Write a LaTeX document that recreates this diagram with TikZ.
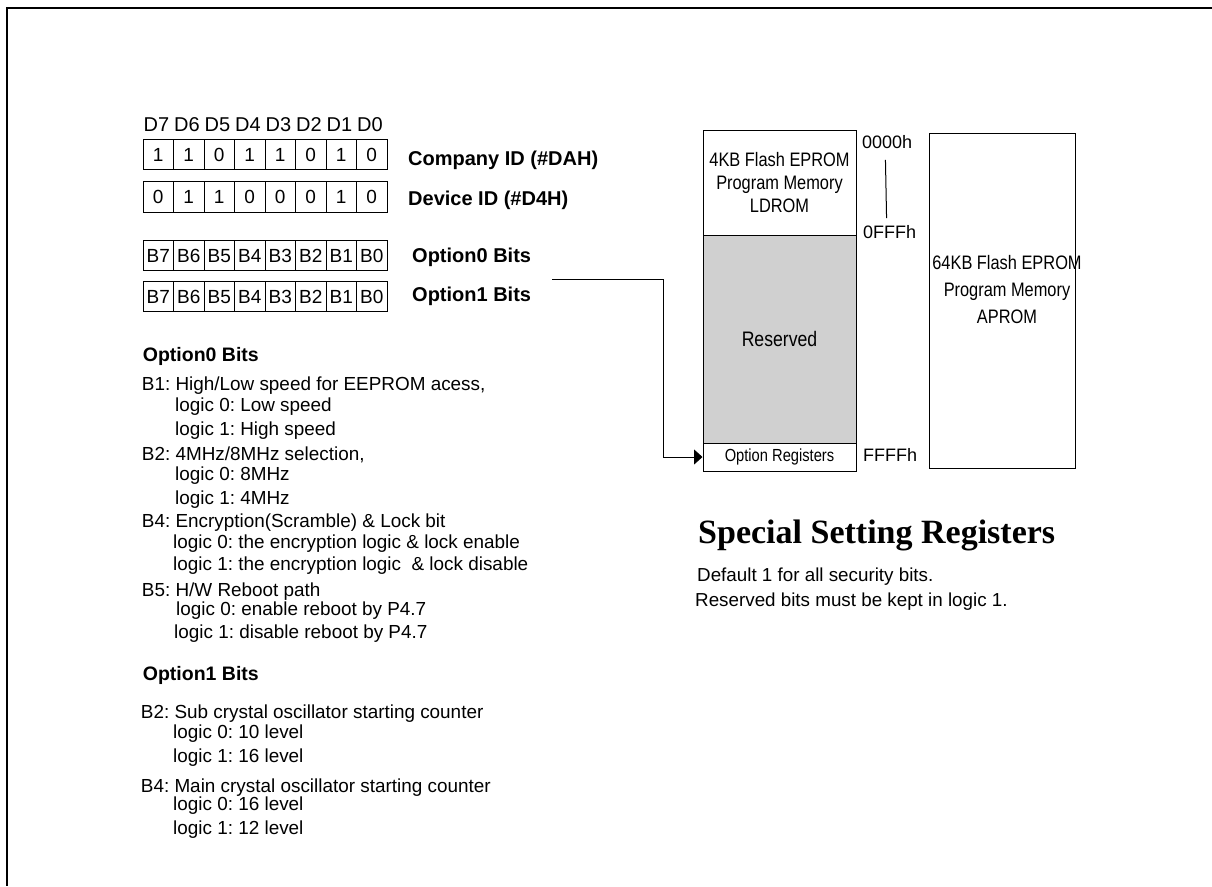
\documentclass[tikz,border=0pt]{standalone}
\usepackage{fontspec}
\setmainfont{Liberation Sans}
\newfontfamily\titlefont{Liberation Serif}
\newfontfamily\memfont[FakeStretch=0.84]{Liberation Sans}
\usetikzlibrary{arrows.meta}
\definecolor{resgray}{RGB}{208,208,208}
\frenchspacing
\tikzset{
  cell/.style={draw, line width=1pt, minimum width=30.5pt, minimum height=29.5pt, inner sep=0pt,
    text height=13.5pt, text depth=0pt, font=\fontsize{19}{22}\selectfont},
  bitlbl/.style={anchor=base, inner sep=0pt, font=\fontsize{20}{24}\selectfont},
  idlbl/.style={anchor=base west, inner sep=0pt, font=\fontsize{20}{24}\selectfont\bfseries},
  hdr/.style={anchor=base west, inner sep=0pt, font=\fontsize{19.5}{24}\selectfont\bfseries},
  body/.style={anchor=base west, inner sep=0pt, font=\fontsize{18.9}{22}\selectfont},
  membox/.style={draw, line width=1pt, inner sep=0pt, align=center, font=\fontsize{19.5}{23}\selectfont\memfont},
  addr/.style={anchor=west, inner sep=0pt, font=\fontsize{18}{22}\selectfont},
  note/.style={anchor=base west, inner sep=0pt, font=\fontsize{18.8}{22}\selectfont},
  conn/.style={line width=1pt, -{Triangle[length=8.5pt,width=15pt]}}
}
\begin{document}
\begin{tikzpicture}[x=1pt,y=-1pt]
\useasboundingbox (0,0) rectangle (1212,886);
% frame
\coordinate (ftl) at (6.5,7.5);
\draw[line width=2pt] (1212,7.5) -- (ftl) -- (6.5,886);

% bit labels D7..D0
\foreach \n [count=\i from 0] in {7,6,5,4,3,2,1,0}
  \node[bitlbl] (d\n) at (156.5+30.5*\i,131) {D\n};

% row 1: company ID
\foreach \v [count=\i from 0] in {1,1,0,1,1,0,1,0}
  \node[cell] (ra\i) at (158.25+30.5*\i,154.5) {\v};
% row 2: device ID
\foreach \v [count=\i from 0] in {0,1,1,0,0,0,1,0}
  \node[cell, minimum height=31pt] (rb\i) at (158.25+30.5*\i,196.5) {\v};
% row 3: option0
\foreach \n [count=\i from 0] in {7,6,5,4,3,2,1,0}
  \node[cell] (rc\i) at (158.25+30.5*\i,255.5) {B\n};
% row 4: option1
\foreach \n [count=\i from 0] in {7,6,5,4,3,2,1,0}
  \node[cell] (rd\i) at (158.25+30.5*\i,296.5) {B\n};

\node[idlbl] (compid) at (408,165) {Company ID (\#DAH)};
\node[idlbl] (devid) at (408,205) {Device ID (\#D4H)};
\node[idlbl] (opt0) at (412,262) {Option0 Bits};
\node[idlbl] (opt1) at (412,301) {Option1 Bits};

% memory map
\node[membox, minimum width=153pt, minimum height=105pt] (ldrom) at (779.5,182.5)
  {4KB Flash EPROM\\Program Memory\\LDROM};
\node[membox, fill=resgray, minimum width=153pt, minimum height=208pt,
  font=\fontsize{21}{24}\selectfont\memfont] (resv) at (779.5,339) {Reserved};
\node[membox, minimum width=153pt, minimum height=28pt,
  font=\fontsize{17.5}{20}\selectfont\memfont] (optreg) at (779.5,457) {Option Registers};
\node[draw, line width=1pt, minimum width=146pt, minimum height=335pt, inner sep=0pt] (aprom) at (1002,300.5) {};
\node[inner sep=0pt, align=center, font=\fontsize{19.5}{27}\selectfont\memfont] (aptext) at (1007,290)
  {64KB Flash EPROM\\Program Memory\\APROM};

\node[addr] (a0) at (862,142) {0000h};
\node[addr] (a1) at (863,232) {0FFFh};
\node[addr] (a2) at (863,455) {FFFFh};
\draw[line width=1pt, shorten <=11pt, shorten >=7pt] ([xshift=-2pt]a0.south) -- ([xshift=-3pt]a1.north);

% connector
\coordinate (cstart) at (552,279.5);
\draw[conn] (cstart) -- (663,279.5) |- (optreg.west);

% title and notes
\node[anchor=base west, inner sep=0pt, font=\fontsize{34}{40}\selectfont\titlefont\bfseries] (title) at (698,543) {Special Setting Registers};
\node[note] (n1) at (697,581) {Default 1 for all security bits.};
\node[note] (n2) at (695,606) {Reserved bits must be kept in logic 1.};

% option0 description
\node[hdr] (h0) at (142.7,361.7) {Option0 Bits};
\node[body] (l1) at (141.7,390.7) {B1: High/Low speed for EEPROM acess,};
\node[body] (l2) at (175,411.7) {logic 0: Low speed};
\node[body] (l3) at (175,435) {logic 1: High speed};
\node[body] (l4) at (141.7,460) {B2: 4MHz/8MHz selection,};
\node[body] (l5) at (175,480) {logic 0: 8MHz};
\node[body] (l6) at (175,504) {logic 1: 4MHz};
\node[body] (l7) at (141.7,527.7) {B4: Encryption(Scramble) \& Lock bit};
\node[body] (l8) at (173,548.3) {logic 0: the encryption logic \& lock enable};
\node[body] (l9) at (173,570.7) {logic 1: the encryption logic\ \ \& lock disable};
\node[body] (l10) at (141.7,596) {B5: H/W Reboot path};
\node[body] (l11) at (176,615) {logic 0: enable reboot by P4.7};
\node[body] (l12) at (174,638.3) {logic 1: disable reboot by P4.7};

% option1 description
\node[hdr] (h1) at (142.7,680) {Option1 Bits};
\node[body] (m1) at (140.7,718.3) {B2: Sub crystal oscillator starting counter};
\node[body] (m2) at (173,738.3) {logic 0: 10 level};
\node[body] (m3) at (173,762.7) {logic 1: 16 level};
\node[body] (m4) at (140.7,792.3) {B4: Main crystal oscillator starting counter};
\node[body] (m5) at (173,810.7) {logic 0: 16 level};
\node[body] (m6) at (173,834) {logic 1: 12 level};
\end{tikzpicture}
\end{document}
